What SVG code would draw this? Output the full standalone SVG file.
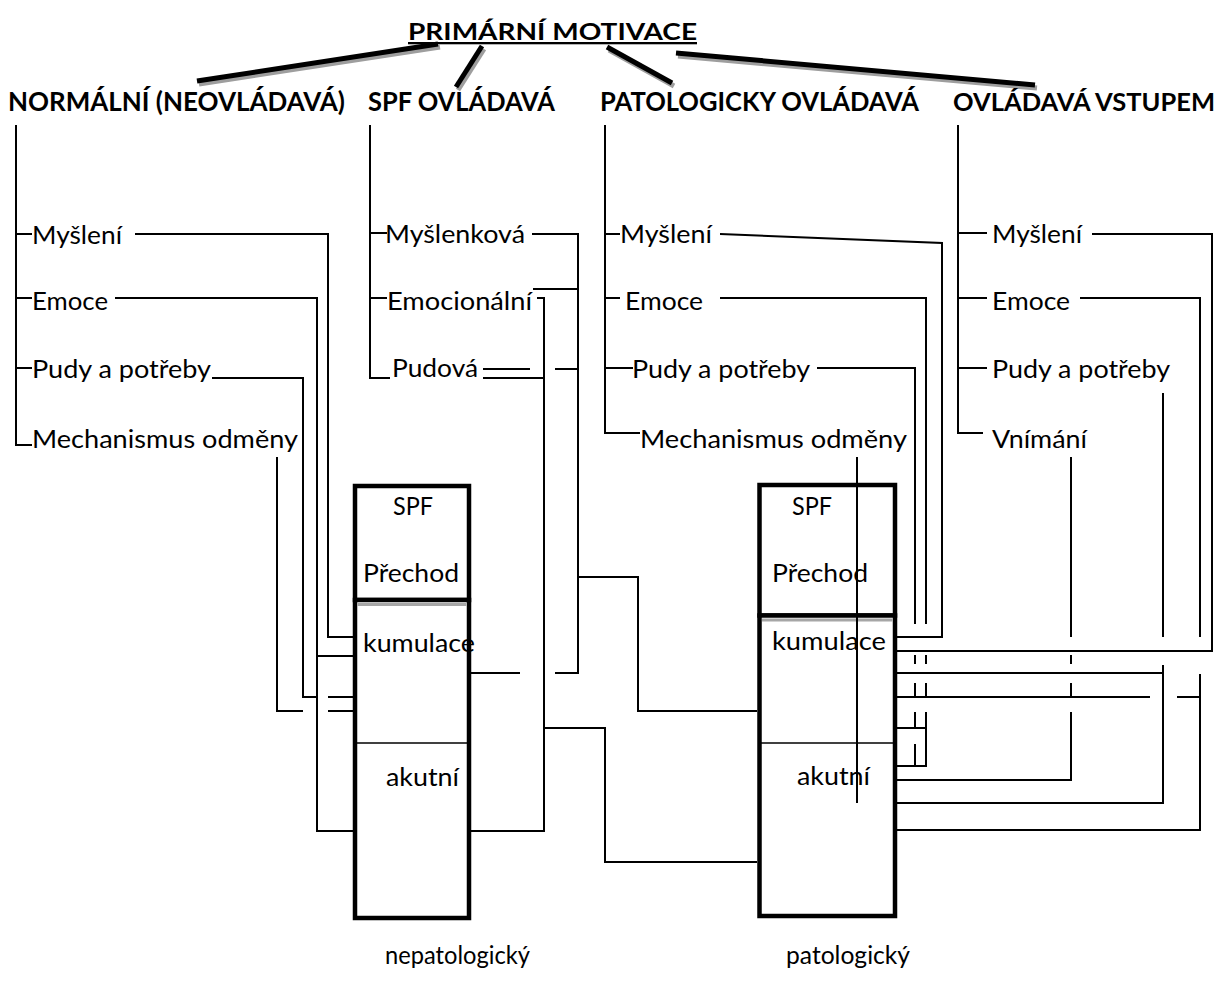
<svg xmlns="http://www.w3.org/2000/svg" width="1221" height="996" viewBox="0 0 1221 996">
<style>
.t{font-family:Lato,"Open Sans","Liberation Sans",sans-serif;font-size:25px;fill:#000}
.h{font-weight:bold;font-size:27px}
.ti{font-weight:bold;font-size:23px;text-decoration:underline}
.ln{stroke:#000;stroke-width:2;fill:none}
.box{stroke:#000;stroke-width:4.5;fill:#fff}
.div{stroke:#000;stroke-width:1.5}
.gray{stroke:#a6a6a6;stroke-width:3}
.thick{stroke:#000;stroke-width:5}
.shadow{stroke:#9e9e9e;stroke-width:5}
</style>
<rect width="1221" height="996" fill="#fff"/>

<g id="title">
<text class="t ti" x="408" y="40" textLength="289" lengthAdjust="spacingAndGlyphs">PRIMÁRNÍ MOTIVACE</text>
</g>

<g id="title-links">
<line class="shadow" x1="440" y1="47" x2="199" y2="84"/>
<line class="thick" x1="438" y1="44" x2="197" y2="81"/>
<line class="shadow" x1="484" y1="49" x2="458" y2="90"/>
<line class="thick" x1="482" y1="46" x2="456" y2="87"/>
<line class="shadow" x1="609" y1="50" x2="674" y2="86"/>
<line class="thick" x1="607" y1="47" x2="672" y2="83"/>
<line class="shadow" x1="678" y1="56" x2="1037" y2="88"/>
<line class="thick" x1="676" y1="53" x2="1035" y2="85"/>
</g>

<g id="heading-normalni"><text class="t h" x="8" y="111" textLength="337" lengthAdjust="spacingAndGlyphs">NORMÁLNÍ (NEOVLÁDAVÁ)</text></g>
<g id="heading-spf"><text class="t h" x="368" y="111" textLength="187" lengthAdjust="spacingAndGlyphs">SPF OVLÁDAVÁ</text></g>
<g id="heading-patologicky"><text class="t h" x="600" y="111" textLength="319" lengthAdjust="spacingAndGlyphs">PATOLOGICKY OVLÁDAVÁ</text></g>
<g id="heading-vstupem"><text class="t h" x="953" y="111" style="font-size:24.5px" textLength="262" lengthAdjust="spacingAndGlyphs">OVLÁDAVÁ VSTUPEM</text></g>

<g id="box-nepatologicky">
<rect class="box" x="355" y="486" width="114" height="114"/>
<rect class="box" x="355" y="600" width="114" height="318"/>
<line class="gray" x1="357.5" y1="604.5" x2="466.5" y2="604.5"/>
<line class="div" x1="357" y1="743" x2="467" y2="743"/>
<text class="t" x="393" y="515" textLength="40" lengthAdjust="spacingAndGlyphs">SPF</text>
<text class="t" x="363" y="582" textLength="96" lengthAdjust="spacingAndGlyphs">Přechod</text>
<text class="t" x="363" y="652" textLength="112" lengthAdjust="spacingAndGlyphs">kumulace</text>
<text class="t" x="386" y="786" textLength="73" lengthAdjust="spacingAndGlyphs">akutní</text>
</g>

<g id="box-patologicky">
<rect class="box" x="759.5" y="485" width="135.5" height="130.5"/>
<rect class="box" x="759.5" y="615.5" width="135.5" height="300.5"/>
<line class="gray" x1="762" y1="620" x2="892.5" y2="620"/>
<line class="div" x1="761" y1="743" x2="893" y2="743"/>
<text class="t" x="792" y="515" textLength="40" lengthAdjust="spacingAndGlyphs">SPF</text>
<text class="t" x="772" y="582" textLength="96" lengthAdjust="spacingAndGlyphs">Přechod</text>
<text class="t" x="772" y="650" textLength="114" lengthAdjust="spacingAndGlyphs">kumulace</text>
<text class="t" x="797" y="785" textLength="73" lengthAdjust="spacingAndGlyphs">akutní</text>
</g>

<g id="list-normalni">
<text class="t" x="32" y="244" textLength="90" lengthAdjust="spacingAndGlyphs">Myšlení</text>
<text class="t" x="32" y="310" textLength="76" lengthAdjust="spacingAndGlyphs">Emoce</text>
<text class="t" x="32" y="378" textLength="179" lengthAdjust="spacingAndGlyphs">Pudy a potřeby</text>
<text class="t" x="32" y="448" textLength="266" lengthAdjust="spacingAndGlyphs">Mechanismus odměny</text>
</g>

<g id="list-spf">
<text class="t" x="385" y="243" textLength="140" lengthAdjust="spacingAndGlyphs">Myšlenková</text>
<text class="t" x="387" y="310" textLength="145" lengthAdjust="spacingAndGlyphs">Emocionální</text>
<text class="t" x="392" y="377" textLength="86" lengthAdjust="spacingAndGlyphs">Pudová</text>
</g>

<g id="list-patologicky">
<text class="t" x="620" y="243" textLength="92" lengthAdjust="spacingAndGlyphs">Myšlení</text>
<text class="t" x="625" y="310" textLength="78" lengthAdjust="spacingAndGlyphs">Emoce</text>
<text class="t" x="632" y="378" textLength="178" lengthAdjust="spacingAndGlyphs">Pudy a potřeby</text>
<text class="t" x="640" y="448" textLength="267" lengthAdjust="spacingAndGlyphs">Mechanismus odměny</text>
</g>

<g id="list-vstupem">
<text class="t" x="992" y="243" textLength="90" lengthAdjust="spacingAndGlyphs">Myšlení</text>
<text class="t" x="992" y="310" textLength="78" lengthAdjust="spacingAndGlyphs">Emoce</text>
<text class="t" x="992" y="378" textLength="178" lengthAdjust="spacingAndGlyphs">Pudy a potřeby</text>
<text class="t" x="992" y="448" textLength="95" lengthAdjust="spacingAndGlyphs">Vnímání</text>
</g>

<g id="label-nepatologicky"><text class="t" x="385" y="964" textLength="145" lengthAdjust="spacingAndGlyphs">nepatologický</text></g>
<g id="label-patologicky"><text class="t" x="786" y="964" textLength="124" lengthAdjust="spacingAndGlyphs">patologický</text></g>

<g id="connectors">
<path class="ln" d="M16,125 V445 H32 M16,234 H32 M16,298 H32 M16,368 H32"/>
<path class="ln" d="M370,125 V378 H390 M370,233 H387 M370,298 H387"/>
<path class="ln" d="M605,125 V433 H640 M605,234 H620 M605,298 H620 M605,368 H633"/>
<path class="ln" d="M958,125 V433 H983 M958,233 H987 M958,298 H987 M958,368 H987"/>
<path class="ln" d="M135,234 H328 V637 H353"/>
<path class="ln" d="M115,298 H317 V831 H353 M317,656 H353"/>
<path class="ln" d="M212,378 H303 V697 H317 M328,697 H353"/>
<path class="ln" d="M277,457 V711 H303 M328,711 H353"/>
<path class="ln" d="M532,234 H578 V673 H555 M520,673 H471"/>
<path class="ln" d="M533,289 H578"/>
<path class="ln" d="M537,298 H544 V831 H471"/>
<path class="ln" d="M483,369 H530 M555,369 H578"/>
<path class="ln" d="M483,378 H544"/>
<path class="ln" d="M578,577 H638 V711 H757"/>
<path class="ln" d="M544,728 H605 V862 H757"/>
<path class="ln" d="M720,234 L942,243 V637 H897"/>
<path class="ln" d="M720,298 H926 V624 M926,655 V664 M926,683 V697 M926,712 V766 H897 M926,728 H897"/>
<path class="ln" d="M817,368 H915 V624 M915,655 V664 M915,683 V697 M915,712 V728 M915,744 V766"/>
<path class="ln" d="M857,457 V803"/>
<path class="ln" d="M1092,234 H1212 V651 H897"/>
<path class="ln" d="M1080,298 H1200 V637 M1200,674 V830 H897 M1177,697 H1200 M1150,697 H897"/>
<path class="ln" d="M1163,393 V637 M1163,665 V803 H897 M1163,673 H897"/>
<path class="ln" d="M1071,457 V637 M1071,655 V664 M1071,683 V697 M1071,712 V780 H897"/>
</g>
</svg>
